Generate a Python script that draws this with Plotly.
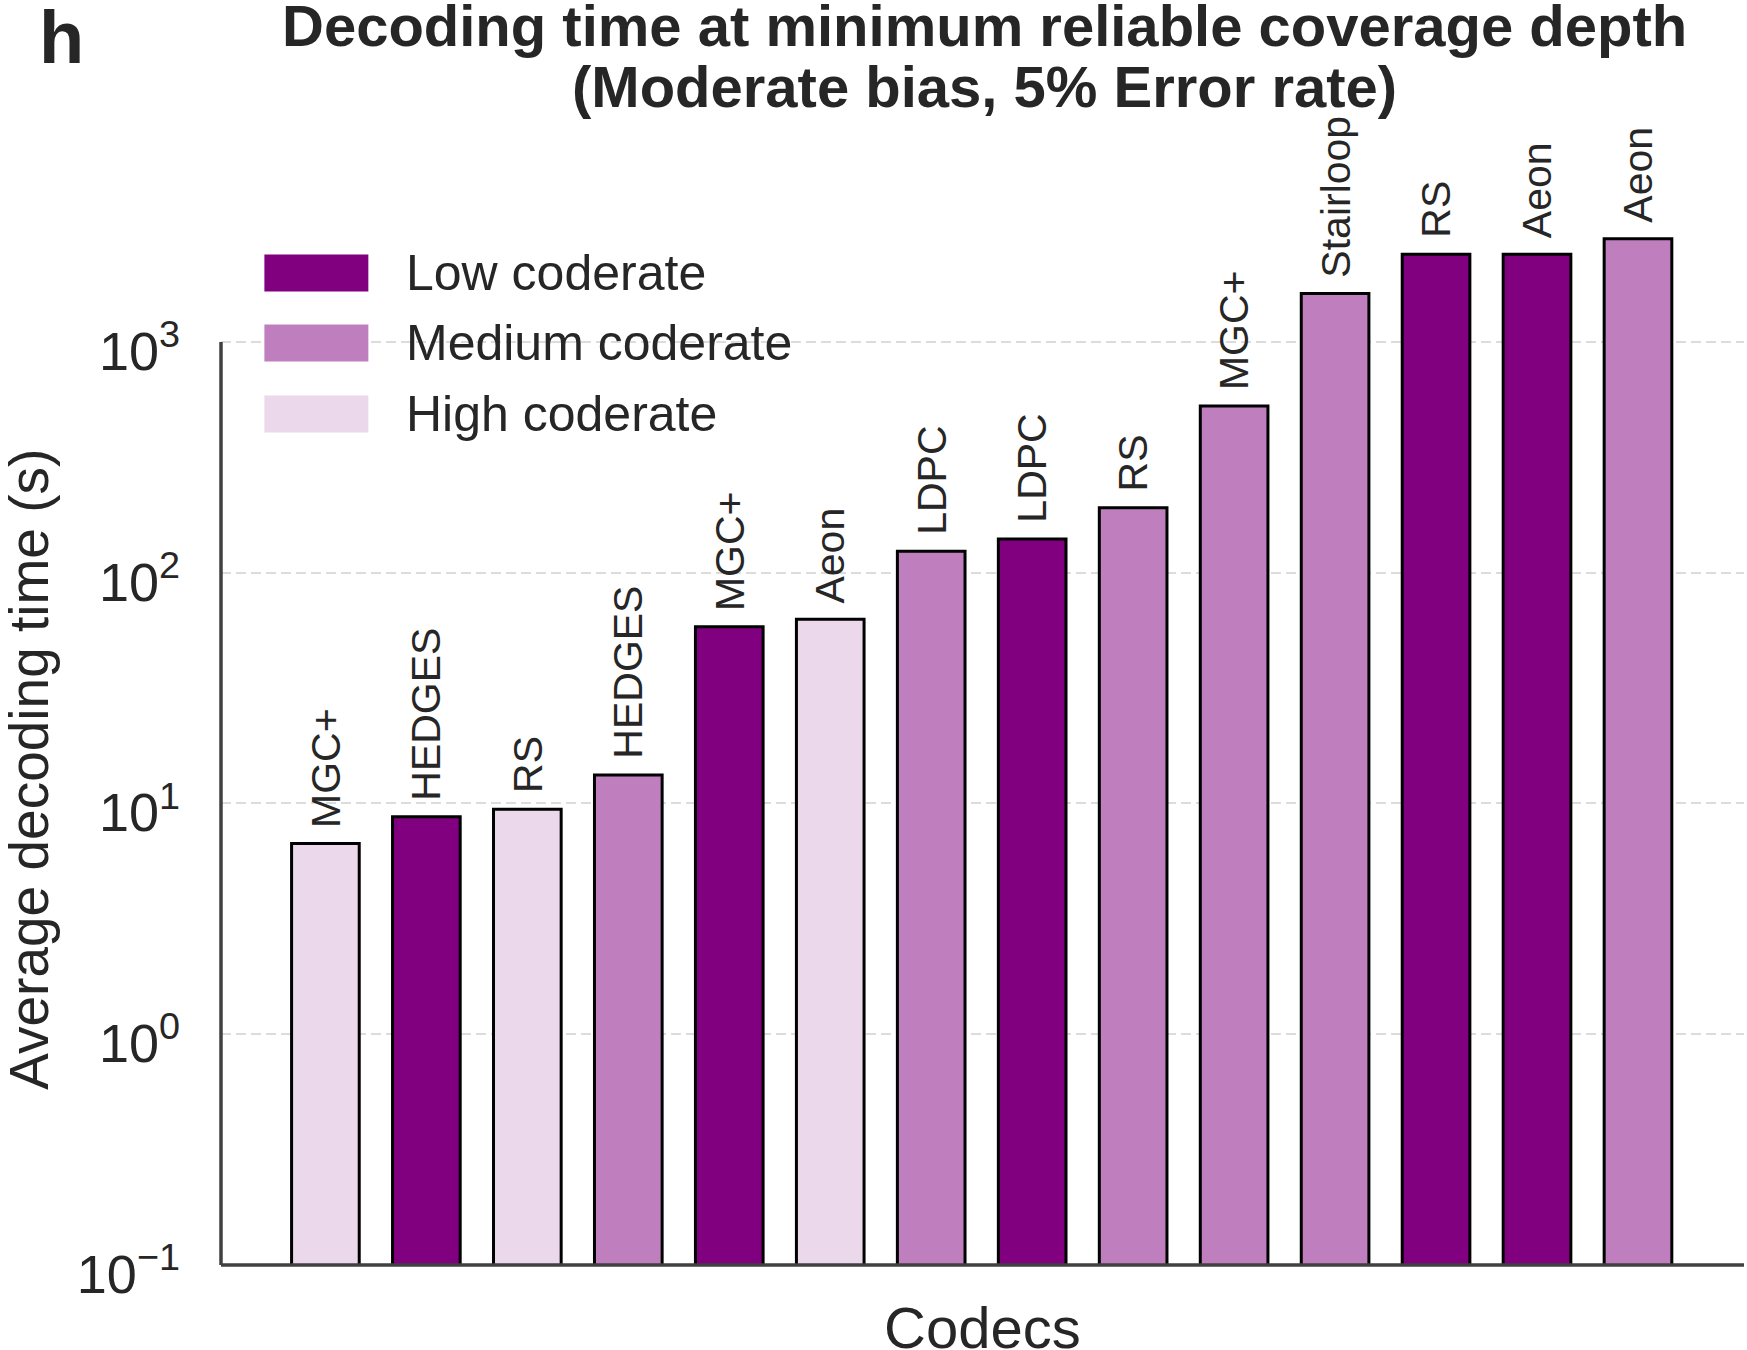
import math
import plotly.graph_objects as go

# ---------------- data ----------------
codecs = ["MGC+", "HEDGES", "RS", "HEDGES", "MGC+", "Aeon", "LDPC",
          "LDPC", "RS", "MGC+", "Stairloop", "RS", "Aeon", "Aeon"]
coderates = ["High", "Low", "High", "Medium", "Low", "High", "Medium",
             "Low", "Medium", "Medium", "Medium", "Low", "Low", "Medium"]
decode_times = [6.7, 8.75, 9.45, 13.3, 58.3, 62.8, 124,
                140, 191, 528, 1620, 2400, 2400, 2800]
rate_names = ["Low", "Medium", "High"]
rate_labels = ["Low coderate", "Medium coderate", "High coderate"]
rate_colors = {"Low": "#800080", "Medium": "#bf7fbf", "High": "#ebd8eb"}
ytick_vals = [0.1, 1, 10, 100, 1000]
ytick_text = ["10<sup>−1</sup>", "10<sup>0</sup>", "10<sup>1</sup>",
              "10<sup>2</sup>", "10<sup>3</sup>"]

title_line1 = "Decoding time at minimum reliable coverage depth"
title_line2 = "(Moderate bias, 5% Error rate)"
ylabel = "Average decoding time (s)"
xlabel = "Codecs"
panel = "h"

# ---------------- geometry ----------------
W, H = 1747, 1350
L, R, T, B = 220.6, 1744.0, 125.0, 1264.6
YMIN, YMAX = -1.0, 3.94
XMIN, XMAX = -1.034, 14.05
FONT = "Arial, 'Liberation Sans', Helvetica, sans-serif"
TXT = "#262626"


def px_x(X):
    return (X - L) / (R - L)


def px_y(Y):
    return (B - Y) / (B - T)


def log_paper(v):
    return (math.log10(v) - YMIN) / (YMAX - YMIN)


xs = list(range(len(codecs)))

fig = go.Figure()
fig.add_trace(go.Bar(
    x=xs, y=decode_times, width=0.67,
    marker=dict(color=[rate_colors[c] for c in coderates],
                line=dict(color="black", width=3)),
    showlegend=False, hoverinfo="x+y",
))

annotations = []
# bar labels
for x, name, v in zip(xs, codecs, decode_times):
    annotations.append(dict(
        x=x, y=math.log10(v), xref="x", yref="y", text=name,
        textangle=-90, showarrow=False, xanchor="center", yanchor="bottom",
        yshift=14, font=dict(family=FONT, size=41, color=TXT)))

# title
annotations.append(dict(
    x=px_x(984), y=px_y(26), xref="paper", yref="paper",
    text="<b>" + title_line1 + "</b>", showarrow=False,
    xanchor="center", yanchor="middle",
    font=dict(family=FONT, size=58, color=TXT)))
annotations.append(dict(
    x=px_x(984), y=px_y(87), xref="paper", yref="paper",
    text="<b>" + title_line2 + "</b>", showarrow=False,
    xanchor="center", yanchor="middle",
    font=dict(family=FONT, size=58, color=TXT)))
# panel label
annotations.append(dict(
    x=px_x(61), y=px_y(38), xref="paper", yref="paper",
    text="<b>" + panel + "</b>", showarrow=False,
    xanchor="center", yanchor="middle",
    font=dict(family=FONT, size=74, color=TXT)))
# axis titles
annotations.append(dict(
    x=px_x(29), y=px_y(769), xref="paper", yref="paper", text=ylabel,
    textangle=-90, showarrow=False, xanchor="center", yanchor="middle",
    font=dict(family=FONT, size=55, color=TXT)))
annotations.append(dict(
    x=px_x(982), y=px_y(1327), xref="paper", yref="paper", text=xlabel,
    showarrow=False, xanchor="center", yanchor="middle",
    font=dict(family=FONT, size=58, color=TXT)))

shapes = []
# spines
shapes.append(dict(type="line", xref="paper", yref="paper",
                   x0=0, x1=0, y0=0, y1=log_paper(1000),
                   line=dict(color="#404040", width=3.5)))
shapes.append(dict(type="line", xref="paper", yref="paper",
                   x0=0, x1=1, y0=0, y1=0,
                   line=dict(color="#404040", width=3.5)))

# legend
row_centers = [273, 343, 414]
for name, lab, yc in zip(rate_names, rate_labels, row_centers):
    shapes.append(dict(type="rect", xref="paper", yref="paper",
                       x0=px_x(264), x1=px_x(368),
                       y0=px_y(yc + 18.5), y1=px_y(yc - 18.5),
                       fillcolor=rate_colors[name], line=dict(width=0)))
    annotations.append(dict(
        x=px_x(404), y=px_y(yc), xref="paper", yref="paper", text=lab,
        showarrow=False, xanchor="left", yanchor="middle",
        font=dict(family=FONT, size=50, color=TXT)))

fig.update_layout(
    width=W, height=H,
    margin=dict(l=L, r=W - R, t=T, b=H - B, pad=0),
    paper_bgcolor="white", plot_bgcolor="white",
    font=dict(family=FONT, color=TXT),
    annotations=annotations, shapes=shapes,
    xaxis=dict(range=[XMIN, XMAX], showticklabels=False, ticks="",
               showgrid=False, zeroline=False, showline=False),
    yaxis=dict(type="log", range=[YMIN, YMAX], tickvals=ytick_vals,
               ticktext=ytick_text, ticks="", showline=False,
               zeroline=False, showgrid=True, gridcolor="#dcdcdc",
               gridwidth=2.2, griddash="10px,5px",
               ticklabelstandoff=40, ticklabelshift=9,
               tickfont=dict(family=FONT, size=54, color=TXT)),
    bargap=0.3, showlegend=False,
)

fig.write_html("out.html")
